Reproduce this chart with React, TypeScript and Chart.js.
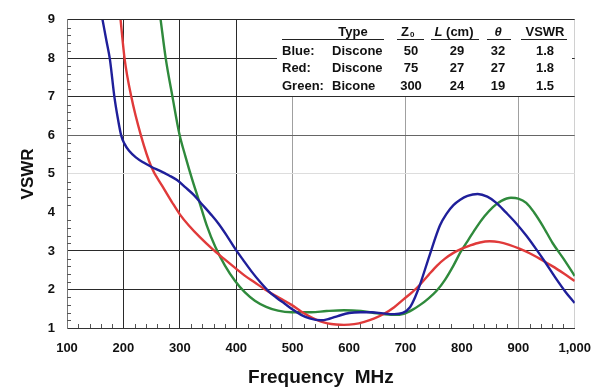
import { useEffect, useRef } from 'react';
import { Chart, registerables } from 'chart.js';

Chart.register(...registerables);

// ---------- data ----------
const blueFreq = [163, 170, 176, 184, 190, 196, 202, 210, 222, 235, 250, 265, 281, 295, 310, 325, 340, 355, 369, 384, 398, 413, 427, 442, 457, 472, 486, 500, 515, 530, 550, 565, 580, 600, 620, 640, 660, 680, 695, 708, 717, 726, 743, 761, 773, 785, 797, 810, 828, 845, 861, 878, 896, 914, 931, 948, 966, 983, 1000];
const blueVswr = [9.0, 8.45, 7.98, 7.0, 6.45, 6.0, 5.78, 5.6, 5.43, 5.3, 5.18, 5.08, 4.96, 4.84, 4.65, 4.45, 4.2, 3.95, 3.7, 3.38, 3.06, 2.75, 2.47, 2.2, 1.96, 1.78, 1.63, 1.48, 1.34, 1.25, 1.2, 1.24, 1.31, 1.39, 1.41, 1.41, 1.38, 1.36, 1.39, 1.54, 1.8, 2.14, 2.9, 3.66, 3.97, 4.19, 4.33, 4.43, 4.48, 4.41, 4.25, 4.0, 3.72, 3.4, 3.06, 2.7, 2.3, 1.95, 1.65];

const redFreq = [195, 202, 214, 231, 249, 269, 286, 300, 316, 336, 357, 378, 398, 415, 433, 451, 469, 484, 498, 515, 533, 548, 562, 577, 591, 609, 627, 645, 662, 680, 697, 712, 726, 741, 756, 770, 785, 800, 814, 832, 849, 866, 884, 902, 920, 940, 961, 980, 1000];
const redVswr = [9.0, 8.0, 7.0, 6.0, 5.2, 4.68, 4.27, 3.95, 3.66, 3.35, 3.06, 2.8, 2.56, 2.36, 2.18, 2.0, 1.84, 1.72, 1.6, 1.43, 1.28, 1.18, 1.12, 1.09, 1.08, 1.1, 1.16, 1.25, 1.37, 1.54, 1.75, 1.93, 2.13, 2.38, 2.62, 2.8, 2.95, 3.06, 3.14, 3.22, 3.25, 3.23, 3.16, 3.06, 2.94, 2.78, 2.6, 2.42, 2.22];

const greenFreq = [266, 275, 287, 299, 310, 322, 334, 348, 363, 380, 398, 415, 433, 453, 474, 498, 533, 560, 591, 621, 650, 679, 697, 712, 726, 741, 756, 770, 785, 798, 812, 826, 840, 855, 870, 887, 900, 914, 928, 943, 961, 980, 1000];
const greenVswr = [9.0, 8.0, 7.0, 6.05, 5.45, 4.85, 4.3, 3.65, 3.1, 2.62, 2.22, 1.93, 1.71, 1.55, 1.45, 1.41, 1.41, 1.44, 1.46, 1.44, 1.38, 1.34, 1.37, 1.47, 1.6, 1.77, 1.98, 2.25, 2.62, 2.98, 3.3, 3.62, 3.9, 4.14, 4.3, 4.38, 4.36, 4.25, 4.0, 3.66, 3.2, 2.8, 2.35];

const xMin = 100;
const xMax = 1000;
const xStep = 100;
const yMin = 1;
const yMax = 9;
const yStep = 1;

const xTitle = 'Frequency  MHz';
const yTitle = 'VSWR';

const tableHeader = ['Type', 'Z', 'L', '\u03b8', 'VSWR'];
const rowLabels = ['Blue:', 'Red:', 'Green:'];
const rowTypes = ['Discone', 'Discone', 'Bicone'];
const rowZ0 = ['50', '75', '300'];
const rowL = ['29', '27', '24'];
const rowTheta = ['32', '27', '19'];
const rowVswr = ['1.8', '1.8', '1.5'];

const FONT = '"Liberation Sans", Arial, sans-serif';

const toPoints = (xs: number[], ys: number[]) => xs.map((x, i) => ({ x, y: ys[i] }));

const xGridColor = (v: number) => {
  if (v === 200 || v === 300 || v === 400) return '#2a2a2a';
  if (v === 500 || v === 700 || v === 900) return '#a0a0a0';
  if (v === 1000) return '#d0d0d0';
  return 'rgba(0,0,0,0)';
};
const yGridColor = (v: number) => {
  if (v === 9 || v === 8 || v === 7 || v === 3 || v === 2) return '#2a2a2a';
  if (v === 6) return '#666666';
  if (v === 5) return '#dddddd';
  return 'rgba(0,0,0,0)';
};

const overlayPlugin = {
  id: 'overlay',
  beforeDatasetsDraw(chart: any) {
    const ctx = chart.ctx;
    const xs = chart.scales.x;
    const ys = chart.scales.y;
    const ca = chart.chartArea;
    ctx.save();
    ctx.strokeStyle = '#555';
    ctx.lineWidth = 1;
    ctx.beginPath();
    for (let v = xMin + 20; v < xMax; v += 20) {
      if (v % 100 === 0) continue;
      const px = Math.round(xs.getPixelForValue(v)) + 0.5;
      ctx.moveTo(px, ca.bottom);
      ctx.lineTo(px, ca.bottom - 4);
    }
    for (let i = 1; i < (yMax - yMin) * 5; i++) {
      if (i % 5 === 0) continue;
      const v = yMin + i * 0.2;
      const py = Math.round(ys.getPixelForValue(v)) + 0.5;
      ctx.moveTo(ca.left, py);
      ctx.lineTo(ca.left + 4, py);
    }
    ctx.stroke();
    ctx.restore();
  },
  afterDraw(chart: any) {
    const ctx = chart.ctx;
    ctx.save();
    // table background
    ctx.fillStyle = '#ffffff';
    ctx.fillRect(277, 20, 295, 76);

    ctx.fillStyle = '#111';
    ctx.textBaseline = 'middle';
    const bold = `bold 13px ${FONT}`;
    const ital = `italic bold 13px ${FONT}`;
    const hy = 32;

    // header
    ctx.font = bold;
    ctx.textAlign = 'center';
    ctx.fillText(tableHeader[0], 353, hy);
    // Z0
    ctx.textAlign = 'left';
    ctx.fillText(tableHeader[1], 401, hy);
    const zw = ctx.measureText(tableHeader[1]).width;
    ctx.font = `bold 8px ${FONT}`;
    ctx.fillText('0', 401 + zw + 1, hy + 3);
    // L (cm)
    ctx.font = ital;
    const lw = ctx.measureText(tableHeader[2]).width;
    ctx.font = bold;
    const cmw = ctx.measureText(' (cm)').width;
    const lx = 454 - (lw + cmw) / 2;
    ctx.font = ital;
    ctx.fillText(tableHeader[2], lx, hy);
    ctx.font = bold;
    ctx.fillText(' (cm)', lx + lw, hy);
    // theta
    ctx.font = ital;
    ctx.textAlign = 'center';
    ctx.fillText(tableHeader[3], 498, hy);
    ctx.font = bold;
    ctx.fillText(tableHeader[4], 545, hy);

    // underline
    ctx.strokeStyle = '#222';
    ctx.lineWidth = 1;
    ctx.beginPath();
    const segs = [[282, 384], [397, 424], [431, 479], [487, 511], [521, 567]];
    segs.forEach(([a, b]) => {
      ctx.moveTo(a, 39.5);
      ctx.lineTo(b, 39.5);
    });
    ctx.stroke();

    const rowY = [51, 68.5, 86];
    rowLabels.forEach((lab, i) => {
      const y = rowY[i];
      ctx.font = bold;
      ctx.textAlign = 'left';
      ctx.fillText(lab, 282, y);
      ctx.fillText(rowTypes[i], 332, y);
      ctx.textAlign = 'center';
      ctx.fillText(rowZ0[i], 411, y);
      ctx.fillText(rowL[i], 457, y);
      ctx.fillText(rowTheta[i], 498, y);
      ctx.fillText(rowVswr[i], 545, y);
    });
    ctx.restore();
  },
};

export default function App() {
  const canvasRef = useRef<HTMLCanvasElement | null>(null);

  useEffect(() => {
    const canvas = canvasRef.current;
    if (!canvas) return;
    const lineDs = (label: string, xs: number[], ys: number[], color: string) => ({
      label,
      data: toPoints(xs, ys),
      borderColor: color,
      backgroundColor: color,
      borderWidth: 2.4,
      pointRadius: 0,
      cubicInterpolationMode: 'monotone' as const,
      fill: false,
    });
    const chart = new Chart(canvas, {
      type: 'line',
      data: {
        datasets: [
          lineDs('Blue', blueFreq, blueVswr, '#1f1f9a'),
          lineDs('Red', redFreq, redVswr, '#e03a3a'),
          lineDs('Green', greenFreq, greenVswr, '#2f8a3c'),
        ],
      },
      options: {
        responsive: false,
        animation: false,
        layout: { padding: { top: 13, right: 25, left: 0, bottom: 0 } },
        plugins: {
          legend: { display: false },
          tooltip: { enabled: false },
        },
        scales: {
          x: {
            type: 'linear',
            min: xMin,
            max: xMax,
            ticks: {
              stepSize: xStep,
              color: '#111',
              padding: 13,
              font: { family: FONT, size: 13, weight: 'bold' },
              callback: (v: any) => Number(v).toLocaleString('en-US'),
            },
            grid: {
              drawTicks: false,
              color: (c: any) => xGridColor(c.tick.value),
              lineWidth: 1,
            },
            border: { display: true, color: '#333', width: 1 },
            title: {
              display: true,
              text: xTitle,
              color: '#111',
              font: { family: FONT, size: 19, weight: 'bold' },
              padding: { top: 0, bottom: 1 },
            },
            afterFit: (s: any) => {
              s.height = 62;
            },
          },
          y: {
            type: 'linear',
            min: yMin,
            max: yMax,
            ticks: {
              stepSize: yStep,
              color: '#111',
              padding: 12,
              font: { family: FONT, size: 13, weight: 'bold' },
            },
            grid: {
              drawTicks: false,
              color: (c: any) => yGridColor(c.tick.value),
              lineWidth: 1,
            },
            border: { display: true, color: '#777', width: 1 },
            title: {
              display: true,
              text: yTitle,
              color: '#111',
              font: { family: FONT, size: 17, weight: 'bold' },
              padding: { top: 18, bottom: 0 },
            },
            afterFit: (s: any) => {
              s.width = 67;
            },
          },
        },
      },
      plugins: [overlayPlugin],
    });
    return () => chart.destroy();
  }, []);

  return (
    <div style={{ position: 'fixed', left: 0, top: 0, width: 604, height: 390, background: '#fff' }}>
      <canvas ref={canvasRef} width={604} height={390} style={{ display: 'block' }} />
    </div>
  );
}
